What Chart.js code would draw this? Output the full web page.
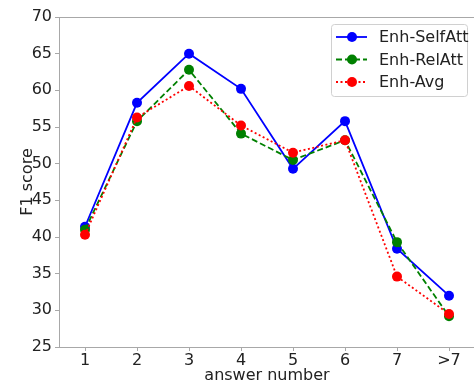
<!DOCTYPE html>
<html lang="en">
<head>
    <meta charset="UTF-8">
    <title>F1 score by answer number</title>
    <script src="https://cdn.jsdelivr.net/npm/chart.js"></script>
    <style>
        html, body { margin: 0; padding: 0; background: #fff; overflow: hidden; }
        #wrap { width: 480px; height: 385px; }
    </style>
</head>
<body>
    <div id="wrap"><canvas id="f1Chart" width="480" height="385"></canvas></div>

    <script>
        const answerNumbers = ['1', '2', '3', '4', '5', '6', '7', '>7'];
        const selfAtt = [41.4, 58.3, 65.0, 60.2, 49.3, 55.8, 38.4, 32.0];
        const relAtt = [41.0, 55.8, 62.8, 54.1, 50.5, 53.2, 39.3, 29.2];
        const avg = [40.3, 56.3, 60.6, 55.2, 51.5, 53.2, 34.6, 29.5];
        const yTicks = [25, 30, 35, 40, 45, 50, 55, 60, 65, 70];

        const FONT = 'DejaVu Sans';
        const AXIS_GRAY = '#a8a8a8';

        // top/right spines plus a matplotlib-like legend box inside the axes
        const frameAndLegend = {
            id: 'frameAndLegend',
            afterDatasetsDraw(chart) {
                const { ctx, chartArea: a } = chart;
                ctx.save();
                ctx.strokeStyle = AXIS_GRAY;
                ctx.lineWidth = 1;
                ctx.beginPath();
                ctx.moveTo(a.left, Math.round(a.top) + 0.5);
                ctx.lineTo(a.right, Math.round(a.top) + 0.5);
                ctx.lineTo(a.right, a.bottom);
                ctx.stroke();

                const w = 136, h = 72;
                const x0 = a.right - 8 - w, y0 = a.top + 7;
                ctx.beginPath();
                ctx.roundRect(x0 + 0.5, y0 + 0.5, w, h, 3);
                ctx.fillStyle = 'rgba(255,255,255,0.8)';
                ctx.fill();
                ctx.strokeStyle = '#d0d0d0';
                ctx.stroke();

                chart.data.datasets.forEach((ds, i) => {
                    const y = y0 + 13 + i * 22.5;
                    ctx.strokeStyle = ds.borderColor;
                    ctx.lineWidth = ds.borderWidth;
                    ctx.setLineDash(ds.borderDash || []);
                    ctx.beginPath();
                    ctx.moveTo(x0 + 5, y);
                    ctx.lineTo(x0 + 36, y);
                    ctx.stroke();
                    ctx.setLineDash([]);
                    ctx.fillStyle = ds.pointBackgroundColor;
                    ctx.beginPath();
                    ctx.arc(x0 + 21, y, ds.pointRadius, 0, Math.PI * 2);
                    ctx.fill();
                    ctx.fillStyle = '#222';
                    ctx.font = '16px "' + FONT + '"';
                    ctx.textBaseline = 'middle';
                    ctx.fillText(ds.label, x0 + 48, y + 1);
                });
                ctx.restore();
            }
        };

        const ctx = document.getElementById('f1Chart').getContext('2d');
        const f1Chart = new Chart(ctx, {
            type: 'line',
            data: {
                labels: answerNumbers,
                datasets: [
                    {
                        label: 'Enh-SelfAtt',
                        data: selfAtt,
                        borderColor: '#0000ff',
                        pointBackgroundColor: '#0000ff',
                        borderWidth: 1.8,
                        pointRadius: 5,
                        pointBorderWidth: 0,
                        order: 3
                    },
                    {
                        label: 'Enh-RelAtt',
                        data: relAtt,
                        borderColor: '#008000',
                        pointBackgroundColor: '#008000',
                        borderWidth: 1.8,
                        borderDash: [6, 3],
                        pointRadius: 5,
                        pointBorderWidth: 0,
                        order: 2
                    },
                    {
                        label: 'Enh-Avg',
                        data: avg,
                        borderColor: '#ff0000',
                        pointBackgroundColor: '#ff0000',
                        borderWidth: 1.8,
                        borderDash: [2, 2.5],
                        pointRadius: 5,
                        pointBorderWidth: 0,
                        order: 1
                    }
                ]
            },
            options: {
                responsive: false,
                animation: false,
                layout: { padding: { top: 17, right: 2, left: 0, bottom: 0 } },
                plugins: {
                    legend: { display: false },
                    tooltip: { enabled: false }
                },
                scales: {
                    x: {
                        type: 'category',
                        offset: true,
                        grid: { offset: false, drawOnChartArea: false, drawTicks: true, tickLength: 4, color: AXIS_GRAY },
                        border: { color: AXIS_GRAY, width: 1 },
                        ticks: { color: '#222', font: { family: FONT, size: 16 }, padding: 0, maxRotation: 0 },
                        title: { display: true, text: 'answer number', color: '#222', font: { family: FONT, size: 16 }, padding: 0 },
                        afterFit: (s) => { s.height = 38; }
                    },
                    y: {
                        min: 25,
                        max: 70,
                        afterBuildTicks: (s) => { s.ticks = yTicks.map(v => ({ value: v })); },
                        grid: { drawOnChartArea: false, drawTicks: true, tickLength: 4, color: AXIS_GRAY },
                        border: { color: AXIS_GRAY, width: 1 },
                        ticks: { color: '#222', font: { family: FONT, size: 16 }, padding: 3 },
                        title: { display: true, text: 'F1 score', color: '#222', font: { family: FONT, size: 16 }, padding: { top: 18, bottom: 0 } },
                        afterFit: (s) => { s.width = 59; }
                    }
                }
            },
            plugins: [frameAndLegend]
        });
    </script>
</body>
</html>
